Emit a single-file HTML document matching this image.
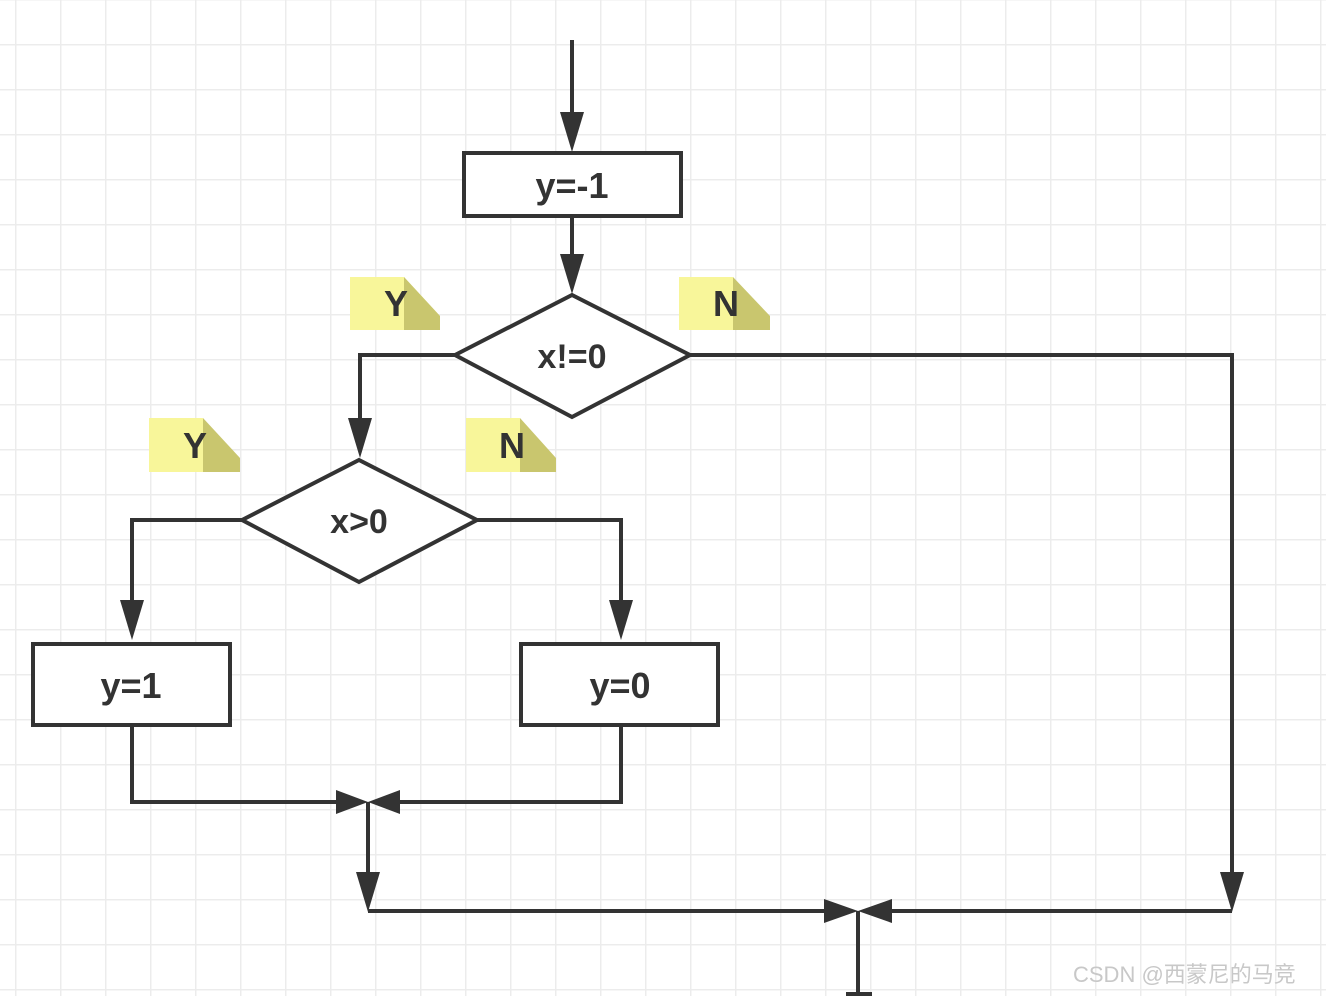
<!DOCTYPE html>
<html><head><meta charset="utf-8"><style>
html,body{margin:0;padding:0;background:#fff;}
svg{display:block;}
</style></head><body>
<svg width="1326" height="996" viewBox="0 0 1326 996" xmlns="http://www.w3.org/2000/svg">
<defs>
<pattern id="g" x="15" y="44" width="45" height="45" patternUnits="userSpaceOnUse">
<path d="M0 0 H45 M0 0 V45" stroke="#ececec" stroke-width="3" fill="none"/>
</pattern>
</defs>
<rect width="1326" height="996" fill="url(#g)"/>
<g stroke="#333" stroke-width="4" fill="none" stroke-linejoin="miter">
<!-- top arrow -->
<line x1="572" y1="40" x2="572" y2="120"/>
<rect x="464" y="153" width="217" height="63" fill="#fff"/>
<line x1="572" y1="216" x2="572" y2="262"/>
<polygon points="455,355 572,295 690,355 572,417" fill="#fff"/>
<polyline points="455,355 360,355 360,425"/>
<polyline points="690,355 1232,355 1232,878"/>
<polygon points="242,520 359,460 477,520 359,582" fill="#fff"/>
<polyline points="242,520 132,520 132,608"/>
<polyline points="477,520 621,520 621,608"/>
<rect x="33" y="644" width="197" height="81" fill="#fff"/>
<rect x="521" y="644" width="197" height="81" fill="#fff"/>
<polyline points="132,725 132,802 340,802"/>
<polyline points="621,725 621,802 398,802"/>
<line x1="368" y1="802" x2="368" y2="880"/>
<line x1="368" y1="911" x2="826" y2="911"/>
<line x1="1232" y1="911" x2="890" y2="911"/>
<line x1="858" y1="911" x2="858" y2="994"/>
<line x1="846" y1="994" x2="872" y2="994"/>
</g>
<g fill="#333">
<polygon points="560,112 584,112 572,152"/>
<polygon points="560,254 584,254 572,294"/>
<polygon points="348,418 372,418 360,458"/>
<polygon points="120,600 144,600 132,640"/>
<polygon points="609,600 633,600 621,640"/>
<polygon points="1220,872 1244,872 1232,912"/>
<polygon points="356,872 380,872 368,912"/>
<polygon points="336,790 336,814 368,802"/>
<polygon points="400,790 400,814 368,802"/>
<polygon points="824,899 824,923 858,911"/>
<polygon points="892,899 892,923 858,911"/>
</g>
<!-- notes -->
<g>
<rect x="350" y="277" width="54" height="53" fill="#f8f69a"/><polygon points="404,277 404,330 440,330 440,316" fill="#f8f69a"/><polygon points="404,277 440,316 440,330 404,330" fill="#c9c66e"/><rect x="404" y="277" width="0" height="0"/>
<rect x="679" y="277" width="54" height="53" fill="#f8f69a"/><polygon points="733,277 770,316 770,330 733,330" fill="#c9c66e"/>
<rect x="149" y="418" width="54" height="54" fill="#f8f69a"/><polygon points="203,418 240,458 240,472 203,472" fill="#c9c66e"/>
<rect x="466" y="418" width="54" height="54" fill="#f8f69a"/><polygon points="520,418 556,458 556,472 520,472" fill="#c9c66e"/>
</g>
<g font-family="Liberation Sans, sans-serif" font-weight="bold" fill="#333" text-anchor="middle">
<text x="396" y="316" font-size="36">Y</text>
<text x="726" y="316" font-size="36">N</text>
<text x="195" y="458" font-size="36">Y</text>
<text x="512" y="458" font-size="36">N</text>
<text x="572" y="198" font-size="36">y=-1</text>
<text x="572" y="368" font-size="34">x!=0</text>
<text x="359" y="533" font-size="34">x&gt;0</text>
<text x="131" y="698" font-size="36">y=1</text>
<text x="620" y="698" font-size="36">y=0</text>
</g>
<text x="1073" y="982" font-family="Liberation Sans, 'Noto Sans CJK SC', sans-serif" font-size="22" fill="#c8c8c8">CSDN @西蒙尼的马竞</text>
</svg>
</body></html>
